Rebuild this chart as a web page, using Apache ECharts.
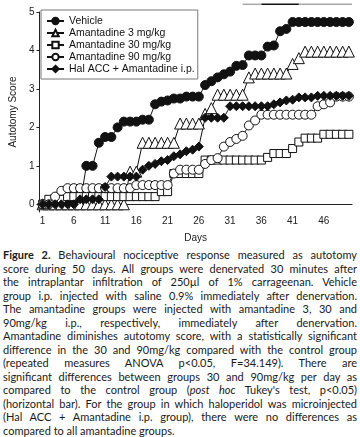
<!DOCTYPE html>
<html>
<head>
<meta charset="utf-8">
<script src="https://cdn.jsdelivr.net/npm/echarts@6/dist/echarts.min.js"></script>
<style>
  body { margin: 0; width: 360px; height: 437px; background: #fff; overflow: hidden; position: relative; }
  #grafico { width: 360px; height: 248px; }
  #legenda { position: absolute; left: 3px; top: 248px; width: 354px; font-family: Lato, sans-serif; font-size: 11px; line-height: 13.5px; color: #1a1a1a; }
  #legenda div { text-align: justify; text-align-last: justify; white-space: nowrap; }
  #legenda div.ultima { text-align-last: left; }
</style>
</head>
<body>
<div id="grafico"></div>
<div id="legenda">
  <div><b>Figure 2.</b> Behavioural nociceptive response measured as autotomy</div>
  <div>score during 50 days. All groups were denervated 30 minutes after</div>
  <div>the intraplantar infiltration of 250µl of 1% carrageenan. Vehicle</div>
  <div>group i.p. injected with saline 0.9% immediately after denervation.</div>
  <div>The amantadine groups were injected with amantadine 3, 30 and</div>
  <div>90mg/kg i.p., respectively, immediately after denervation.</div>
  <div>Amantadine diminishes autotomy score, with a statistically significant</div>
  <div>difference in the 30 and 90mg/kg compared with the control group</div>
  <div>(repeated measures ANOVA p&lt;0.05, F=34.149). There are</div>
  <div>significant differences between groups 30 and 90mg/kg per day as</div>
  <div>compared to the control group (<i>post hoc</i> Tukey's test, p&lt;0.05)</div>
  <div>(horizontal bar). For the group in which haloperidol was microinjected</div>
  <div>(Hal ACC + Amantadine i.p. group), there were no differences as</div>
  <div class="ultima">compared to all amantadine groups.</div>
</div>
<script>
var dias = ['1','2','3','4','5','6','7','8','9','10','11','12','13','14','15','16','17','18','19','20',
  '21','22','23','24','25','26','27','28','29','30','31','32','33','34','35','36','37','38','39','40',
  '41','42','43','44','45','46','47','48','49','50'];

var veiculo = [0, 0, 0, 0, 0, 0, 0, 1.0, 1.0, 1.6, 1.75, 1.75, 2.0, 2.15, 2.15, 2.15, 2.2, 2.2,
  2.6, 2.67, 2.7, 2.75, 2.75, 2.8, 2.8, 2.8, 3.1, 3.2, 3.3, 3.38, 3.45, 3.6, 3.62,
  3.87, 3.87, 3.87, 4.1, 4.13, 4.5, 4.56,
  4.74, 4.74, 4.74, 4.74, 4.74, 4.74, 4.74, 4.74, 4.74, 4.74];

var amantadina3 = [0, 0, 0, 0, 0, 0, 0, 0, 0, 0, 0, 0, 0, 0, 0.85, 0.85,
  1.6, 1.6, 1.6, 1.6, 1.6, 1.6, 2.1, 2.1, 2.1, 2.1, 2.35, 2.5,
  2.85, 2.85, 2.85, 2.85, 2.85, 3.3, 3.4, 3.4, 3.4, 3.4, 3.4, 3.4, 3.65, 3.8,
  3.97, 3.97, 3.97, 3.97, 3.97, 3.97, 3.97, 3.97];

var amantadina30 = [0, 0.13, 0.13, 0.13, 0.2, 0.2, 0.2, 0.2, 0.2, 0.2, 0.2, 0.2, 0.2, 0.2, 0.2, 0.2, 0.2, 0.2, 0.2,
  0.33, 0.33, 0.8, 0.8, 0.8, 0.8, 0.8,
  1.15, 1.15, 1.15, 1.15, 1.15, 1.15, 1.15, 1.15, 1.15, 1.15, 1.22, 1.32, 1.32, 1.32, 1.45, 1.62,
  1.72, 1.72, 1.72, 1.82, 1.82, 1.82, 1.82, 1.82];

var amantadina90 = [0, 0, 0.2, 0.35, 0.42, 0.42, 0.42, 0.42, 0.42, 0.42, 0.42, 0.42, 0.42, 0.42, 0.42,
  0.5, 0.5, 0.5, 0.5, 0.5, 0.5, 0.8, 0.9, 0.9, 0.9, 0.9, 1.05, 1.15, 1.2, 1.5, 1.62, 1.7, 1.78, 2.05, 2.18,
  2.33, 2.33, 2.33, 2.33, 2.33, 2.33, 2.33, 2.33, 2.33, 2.55, 2.6, 2.65, 2.8, 2.8, 2.8];

var halAcc = [0, 0, 0, 0, 0, 0, 0.13, 0.13, 0.13, 0.13, 0.45, 0.72, 0.72, 0.72, 0.72, 0.72,
  0.9, 1.0, 1.05, 1.12, 1.15, 1.25, 1.3, 1.38, 1.42, 1.5, 2.25, 2.25, 2.25, 2.25,
  2.55, 2.55, 2.55, 2.55, 2.55, 2.55, 2.55, 2.6, 2.65, 2.7, 2.72, 2.78, 2.78, 2.78,
  2.82, 2.82, 2.82, 2.82, 2.82, 2.82];

var marcasY = [0, 1, 2, 3, 4, 5];

// barra horizontal (post hoc): trechos em dias
var barraDias = [['33', '36'], ['36', '42'], ['42', '50']];
var barraNivel = 5.2;

var corBarra = ['#a8a8a8', '#111', '#a8a8a8'];
var fonte = 'Liberation Sans, Arial, sans-serif';

var chartDom = document.getElementById('grafico');
var myChart = echarts.init(chartDom);
var option;

function serie(nome, dados, simbolo, tamanho, preenchido) {
  return {
    name: nome,
    type: 'line',
    data: dados,
    symbol: simbolo,
    symbolSize: tamanho,
    showAllSymbol: true,
    lineStyle: { color: '#111', width: 1 },
    itemStyle: {
      color: preenchido ? '#111' : '#fff',
      borderColor: '#111',
      borderWidth: 1
    }
  };
}

option = {
  animation: false,
  textStyle: { fontFamily: fonte },
  grid: { left: 32, right: 8, top: 12, bottom: 32 },
  legend: {
    orient: 'vertical',
    left: 41,
    top: 10,
    padding: [5, 3, 4, 5],
    itemGap: 0,
    itemWidth: 17,
    itemHeight: 8,
    borderColor: '#777',
    borderWidth: 1,
    textStyle: { fontSize: 10.5, color: '#111', lineHeight: 12, fontFamily: fonte },
    data: ['Vehicle', 'Amantadine 3 mg/kg', 'Amantadine 30 mg/kg', 'Amantadine 90 mg/kg', 'Hal ACC + Amantadine i.p.']
  },
  xAxis: {
    type: 'category',
    data: dias,
    boundaryGap: true,
    name: 'Days',
    nameLocation: 'middle',
    nameGap: 21,
    nameTextStyle: { fontSize: 10, color: '#222' },
    axisLine: { lineStyle: { color: '#222', width: 1 } },
    axisTick: { alignWithLabel: true, interval: 0, length: 3, lineStyle: { color: '#222' } },
    axisLabel: { interval: 4, margin: 4, fontSize: 10, color: '#222' }
  },
  yAxis: {
    type: 'value',
    min: -0.2,
    max: 5,
    name: 'Autotomy Score',
    nameLocation: 'middle',
    nameGap: 20,
    nameTextStyle: { fontSize: 10, color: '#222' },
    splitLine: { show: false },
    axisLine: { show: true, lineStyle: { color: '#222', width: 1 } },
    axisTick: { show: true, length: 3, customValues: marcasY, lineStyle: { color: '#222' } },
    axisLabel: { customValues: marcasY, margin: 5, fontSize: 10, color: '#222' }
  },
  series: [
    serie('Vehicle', veiculo, 'circle', 9, true),
    serie('Amantadine 3 mg/kg', amantadina3, 'triangle', 11, false),
    serie('Amantadine 30 mg/kg', amantadina30, 'rect', 8, false),
    serie('Amantadine 90 mg/kg', amantadina90, 'circle', 9, false),
    serie('Hal ACC + Amantadine i.p.', halAcc, 'diamond', 9, true)
  ]
};

option && myChart.setOption(option);

// barra de significancia desenhada a partir das coordenadas do eixo
var p1 = myChart.convertToPixel({ gridIndex: 0 }, ['1', 0]);
var p2 = myChart.convertToPixel({ gridIndex: 0 }, ['2', 0]);
var meiaBanda = (p2[0] - p1[0]) / 2;
var linhas = barraDias.map(function (trecho, i) {
  var a = myChart.convertToPixel({ gridIndex: 0 }, [trecho[0], barraNivel]);
  var b = myChart.convertToPixel({ gridIndex: 0 }, [trecho[1], barraNivel]);
  var fim = i === barraDias.length - 1 ? b[0] + meiaBanda : b[0];
  return {
    type: 'line',
    shape: { x1: a[0], y1: a[1], x2: fim, y2: b[1] },
    style: { stroke: corBarra[i], lineWidth: 1.5 }
  };
});
myChart.setOption({ graphic: linhas });
</script>
</body>
</html>
